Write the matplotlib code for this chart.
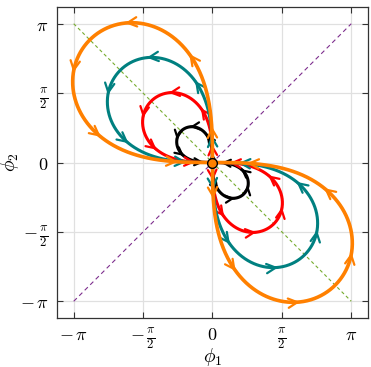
import numpy as np
import matplotlib
matplotlib.use("Agg")
import matplotlib.pyplot as plt
from matplotlib.patches import FancyArrowPatch

plt.rcParams["mathtext.fontset"] = "cm"
plt.rcParams["font.family"] = ["DejaVu Serif"]

# Petal scale (radius along the anti-diagonal direction) of each orbit pair
orbit_colors = ["#000000", "#FF0000", "#008080", "#FF8000"]
orbit_scale = [0.32 * np.pi, 0.625 * np.pi, 0.94 * np.pi, 1.25 * np.pi]
orbit_width = [2.2, 2.2, 2.2, 2.6]
arrow_size = [9, 11, 12, 12]

# Angular offsets (degrees past the axis) where direction arrows sit
arrow_offsets_deg = [1.2, 12.0, 32.0, 57.0, 77.0, 88.8]

tick_vals = [-np.pi, -np.pi / 2, 0, np.pi / 2, np.pi]
tick_text = [r"$-\,\pi$", r"$-\,\frac{\pi}{2}$", r"$0$", r"$\frac{\pi}{2}$", r"$\pi$"]

fig = plt.figure(figsize=(3.71, 3.67), dpi=100)
ax = fig.add_axes([0.1536, 0.1335, 0.8383, 0.8474])


def petal(a, theta):
    """Orbit through the origin: r^2 = -a^2 sin(2 theta)."""
    r = a * np.sqrt(np.clip(-np.sin(2 * theta), 0, None))
    return r * np.cos(theta), r * np.sin(theta)


# guide lines
ax.plot([-np.pi, np.pi], [np.pi, -np.pi], ls=(0, (3, 2.5)), color="#77AC30", lw=0.8, zorder=2)
ax.plot([-np.pi, np.pi], [-np.pi, np.pi], ls=(0, (4, 3)), color="#7E2F8E", lw=0.8, zorder=2)

for k, (a, col, lw, ms) in enumerate(zip(orbit_scale, orbit_colors, orbit_width, arrow_size)):
    z = 3 + k
    for base in (np.pi / 2, 3 * np.pi / 2):
        th = np.linspace(base, base + np.pi / 2, 600)
        x, y = petal(a, th)
        ax.plot(x, y, color=col, lw=lw, solid_capstyle="round", zorder=z)
        for off in arrow_offsets_deg:
            t0 = base + np.deg2rad(off)
            p0 = petal(a, t0 - 1e-3)
            p1 = petal(a, t0 + 1e-3)
            arr = FancyArrowPatch(
                (float(p0[0]), float(p0[1])), (float(p1[0]), float(p1[1])),
                arrowstyle="->,head_length=0.55,head_width=0.28",
                mutation_scale=ms, color=col, lw=1.6,
                shrinkA=0, shrinkB=0, zorder=z + 0.5,
            )
            ax.add_patch(arr)

ax.plot([0], [0], "o", ms=7, mfc="#FF8000", mec="black", mew=1.0, zorder=10)

lim = 3.52
ax.set_xlim(-lim, lim)
ax.set_ylim(-lim, lim)
ax.set_xticks(tick_vals)
ax.set_xticklabels(tick_text, fontsize=13)
ax.set_yticks(tick_vals)
ax.set_yticklabels(tick_text, fontsize=13)
ax.tick_params(direction="in", length=4, width=0.8, top=True, right=True,
               color="#333333", pad=6)
ax.grid(True, color="#E0E0E0", lw=0.9, zorder=0)
ax.set_axisbelow(True)
for s in ax.spines.values():
    s.set_color("#333333")
    s.set_linewidth(0.9)

ax.set_xlabel(r"$\phi_1$", fontsize=14, labelpad=-4)
ax.set_ylabel(r"$\phi_2$", fontsize=14, labelpad=-1)

fig.savefig("out.png", dpi=100)
